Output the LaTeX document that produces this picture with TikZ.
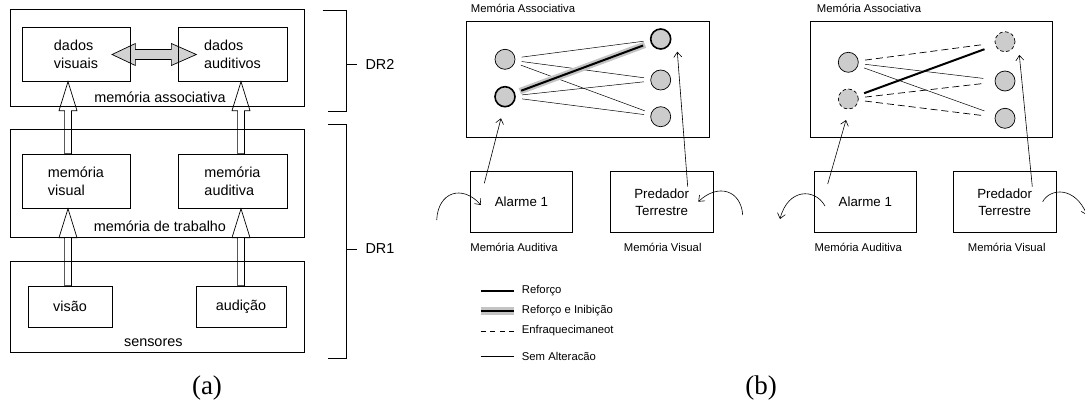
\documentclass[tikz,border=0pt]{standalone}
\usepackage{fontspec}
\setmainfont{Liberation Sans}
\newfontfamily\capfont{Liberation Serif}
\usetikzlibrary{calc,arrows.meta}
\pgfdeclarelayer{bg}
\pgfsetlayers{bg,main}
\definecolor{nfill}{HTML}{CCCCCC}
\definecolor{halo}{HTML}{C4C4C4}
\definecolor{agrey}{HTML}{D2D2D2}
\newcommand\hollowup[3]{\draw[hollow] let \p1=(#2), \p2=(#3) in
 ({#1pt-3.4pt},\y1) -- ({#1pt-3.4pt},{\y2-29pt}) -- ({#1pt-9pt},{\y2-29pt}) -- (#1pt,\y2)
 -- ({#1pt+9pt},{\y2-29pt}) -- ({#1pt+3.4pt},{\y2-29pt}) -- ({#1pt+3.4pt},\y1) -- cycle;}
\begin{document}
\begin{tikzpicture}[x=1pt,y=-1pt,
 frame/.style={draw, line width=0.7pt, inner sep=0pt},
 inbox/.style={frame, align=left, font=\fontsize{14.4}{18}\selectfont},
 lbl/.style={inner sep=0pt, font=\fontsize{14.4}{18}\selectfont},
 small/.style={inner sep=0pt, font=\fontsize{11.3}{13}\selectfont},
 mid/.style={frame, align=center, font=\fontsize{13.3}{17}\selectfont},
 neuron/.style={circle, draw, fill=nfill, minimum size=20pt, inner sep=0pt, line width=0.7pt},
 strongn/.style={neuron, line width=1.6pt},
 dashn/.style={neuron, dash pattern=on 3.5pt off 2.5pt},
 link/.style={line width=0.5pt},
 dlink/.style={line width=0.7pt, dash pattern=on 7pt off 4pt},
 boldlink/.style={line width=2pt},
 capt/.style={inner sep=0pt, font=\capfont\fontsize{27}{30}\selectfont},
 ptr/.style={line width=0.6pt, -{Straight Barb[length=5pt,width=8pt]}},
 hollow/.style={draw, line width=0.7pt, fill=white},
 brack/.style={line width=0.8pt}
]
\useasboundingbox (0,0) rectangle (1085,407);

% ---------------- panel (a)
\node[frame, minimum width=294pt, minimum height=96.7pt] (assoc) at (157,57.7) {};
\node[inbox, minimum width=108pt, minimum height=53.6pt] (dv) at (76,54.5) {dados\\visuais};
\node[inbox, minimum width=109pt, minimum height=53.6pt] (da) at (232.5,54.5) {dados\\auditivos};
\node[lbl] (assocl) at (160,97) {memória associativa};

\node[frame, minimum width=294pt, minimum height=108.3pt] (trab) at (157,183.2) {};
\node[inbox, minimum width=108pt, minimum height=54.3pt] (mv) at (76,181.2) {memória\\visual};
\node[inbox, minimum width=109pt, minimum height=54.3pt] (ma) at (232.5,181.2) {memória\\auditiva};
\node[lbl] (trabl) at (160,226.7) {memória de trabalho};

\node[frame, minimum width=294pt, minimum height=90.6pt] (sens) at (157,307) {};
\node[inbox, minimum width=84pt, minimum height=41pt] (vis) at (70,306.5) {visão};
\node[inbox, minimum width=90pt, minimum height=41pt] (aud) at (241,306.5) {audição};
\node[lbl] (sensl) at (153.3,342.7) {sensores};

\begin{pgfonlayer}{bg}
\draw[fill=agrey, line width=0.7pt] let \p1=(dv.east), \p2=(da.west) in
 ({\x1-18.3pt},\y1) -- ({\x1+5pt},{\y1+11pt}) -- ({\x1+5pt},{\y1+5pt})
 -- ({\x2-6.3pt},{\y1+5pt}) -- ({\x2-6.3pt},{\y1+11pt}) -- ({\x2+18.7pt},\y1)
 -- ({\x2-6.3pt},{\y1-11pt}) -- ({\x2-6.3pt},{\y1-5pt}) -- ({\x1+5pt},{\y1-5pt})
 -- ({\x1+5pt},{\y1-11pt}) -- cycle;
\hollowup{68}{mv.north}{dv.south}
\hollowup{241}{ma.north}{da.south}
\hollowup{68}{vis.north}{mv.south}
\hollowup{241}{aud.north}{ma.south}
\end{pgfonlayer}

\node[lbl] (dr2) at (380,64) {DR2};
\node[lbl] (dr1) at (380,249) {DR1};
\draw[brack] (322.7,10) -- (346,10) -- (346,111) -- (328,111);
\draw[brack] (346,64) -- ([xshift=-8pt]dr2.west);
\draw[brack] (328,124) -- (346,124) -- (346,358) -- (328,358);
\draw[brack] (346,249) -- ([xshift=-8pt]dr1.west);

\node[capt] (capa) at (207,388) {(a)};
\node[capt] (capb) at (761,388) {(b)};

% ---------------- panel (b) left
\node[small, anchor=west] (Ltitle) at (470.7,8.3) {Memória Associativa};
\node[frame, minimum width=242.6pt, minimum height=115.6pt] (Lbox) at (588,79.5) {};
\node[neuron] (Lc1) at (505,59.3) {};
\node[strongn] (Lc2) at (505,96.7) {};
\node[strongn] (Lr1) at (660.7,39) {};
\node[neuron] (Lr2) at (660.7,80) {};
\node[neuron] (Lr3) at (660.7,116.7) {};
\draw[link, shorten <=6.5pt, shorten >=6.5pt] (Lc1) -- (Lr1);
\draw[link, shorten <=6.5pt, shorten >=6.5pt] (Lc1) -- (Lr2);
\draw[link, shorten <=6.5pt, shorten >=6.5pt] (Lc1) -- (Lr3);
\draw[link, shorten <=6.5pt, shorten >=6.5pt] (Lc2) -- (Lr2);
\draw[link, shorten <=6.5pt, shorten >=6.5pt] (Lc2) -- (Lr3);
\draw[halo, line width=6.5pt, shorten <=5pt, shorten >=6pt] (Lc2) -- (Lr1);
\draw[boldlink, shorten <=6.5pt, shorten >=8pt] (Lc2) -- (Lr1);

\node[mid, minimum width=102.7pt, minimum height=60.6pt] (Lal) at (521.4,202) {Alarme 1};
\node[mid, minimum width=103.3pt, minimum height=60.6pt] (Lpr) at (661.7,202) {Predador\\Terrestre};
\node[small] (Lma) at (514,247.3) {Memória Auditiva};
\node[small] (Lmv) at (662.7,247.3) {Memória Visual};

\coordinate (Lals) at (484.3,183.3);
\draw[ptr] (Lals) -- ([shift={(-4,21.6)}]Lc2.center);
\coordinate (Lprs) at (687.7,186.7);
\draw[ptr] (Lprs) -- ([shift={(16.6,12.7)}]Lr1.center);
\coordinate (Lcl) at (436.7,220);
\coordinate (Lclt) at (481,205);
\draw[ptr] (Lcl) .. controls (438,192) and (462,184) .. (Lclt);
\coordinate (Lcr) at (742.7,215);
\coordinate (Lcrt) at (698.3,201.7);
\draw[ptr] (Lcr) .. controls (741,190) and (718,183) .. (Lcrt);

% legend
\coordinate (g1a) at (480.7,291); \coordinate (g1b) at (514,291);
\coordinate (g2a) at (480.7,311); \coordinate (g2b) at (514,311);
\coordinate (g3a) at (480.7,331); \coordinate (g3b) at (514,331);
\coordinate (g4a) at (480.7,356); \coordinate (g4b) at (514,356);
\draw[line width=1.7pt] (g1a) -- (g1b);
\draw[halo, line width=8pt] (g2a) -- (g2b);
\draw[line width=2.4pt] (g2a) -- (g2b);
\draw[line width=0.7pt, dash pattern=on 5pt off 4.5pt] (g3a) -- (g3b);
\draw[line width=0.9pt] (g4a) -- (g4b);
\node[small, anchor=west] (t1) at (521.7,291) {Reforço};
\node[small, anchor=west] (t2) at (521.7,311) {Reforço e Inibição};
\node[small, anchor=west] (t3) at (521.7,331) {Enfraquecimaneot};
\node[small, anchor=west] (t4) at (521.7,356) {Sem Alteracão};

% ---------------- panel (b) right
\node[small, anchor=west] (Rtitle) at (816.7,8.3) {Memória Associativa};
\node[frame, minimum width=242.7pt, minimum height=115.6pt] (Rbox) at (931.35,79.5) {};
\node[neuron] (Rc1) at (848.3,62.3) {};
\node[dashn] (Rc2) at (848.3,99) {};
\node[dashn] (Rr1) at (1005,41.7) {};
\node[neuron] (Rr2) at (1005,81) {};
\node[neuron] (Rr3) at (1005,118.3) {};
\draw[dlink, shorten <=6.5pt, shorten >=11.5pt] (Rc1) -- (Rr1);
\draw[link, shorten <=6.5pt, shorten >=11.5pt] (Rc1) -- (Rr2);
\draw[link, shorten <=6.5pt, shorten >=11.5pt] (Rc1) -- (Rr3);
\draw[dlink, shorten <=6.5pt, shorten >=11.5pt] (Rc2) -- (Rr2);
\draw[dlink, shorten <=6.5pt, shorten >=11.5pt] (Rc2) -- (Rr3);
\draw[boldlink, shorten <=6.5pt, shorten >=11.5pt] (Rc2) -- (Rr1);

\node[mid, minimum width=102.7pt, minimum height=60.6pt] (Ral) at (865.35,202) {Alarme 1};
\node[mid, minimum width=102.7pt, minimum height=60.6pt] (Rpr) at (1004.65,202) {Predador\\Terrestre};
\node[small] (Rma) at (858.3,247.3) {Memória Auditiva};
\node[small] (Rmv) at (1006.7,247.3) {Memória Visual};

\coordinate (Rals) at (827.7,184);
\draw[ptr] (Rals) -- ([shift={(-2.3,21)}]Rc2.center);
\coordinate (Rprs) at (1032.3,186.7);
\draw[ptr] (Rprs) -- ([shift={(14.3,13.3)}]Rr1.center);
\coordinate (Rcl) at (825,206);
\coordinate (Rclt) at (780,219);
\draw[ptr] (Rcl) .. controls (815,188) and (788,188) .. (Rclt);
\coordinate (Rcr) at (1042.7,201.7);
\coordinate (Rcrt) at (1087,215);
\draw[ptr] (Rcr) .. controls (1050,188) and (1075,186) .. (Rcrt);
\end{tikzpicture}
\end{document}
